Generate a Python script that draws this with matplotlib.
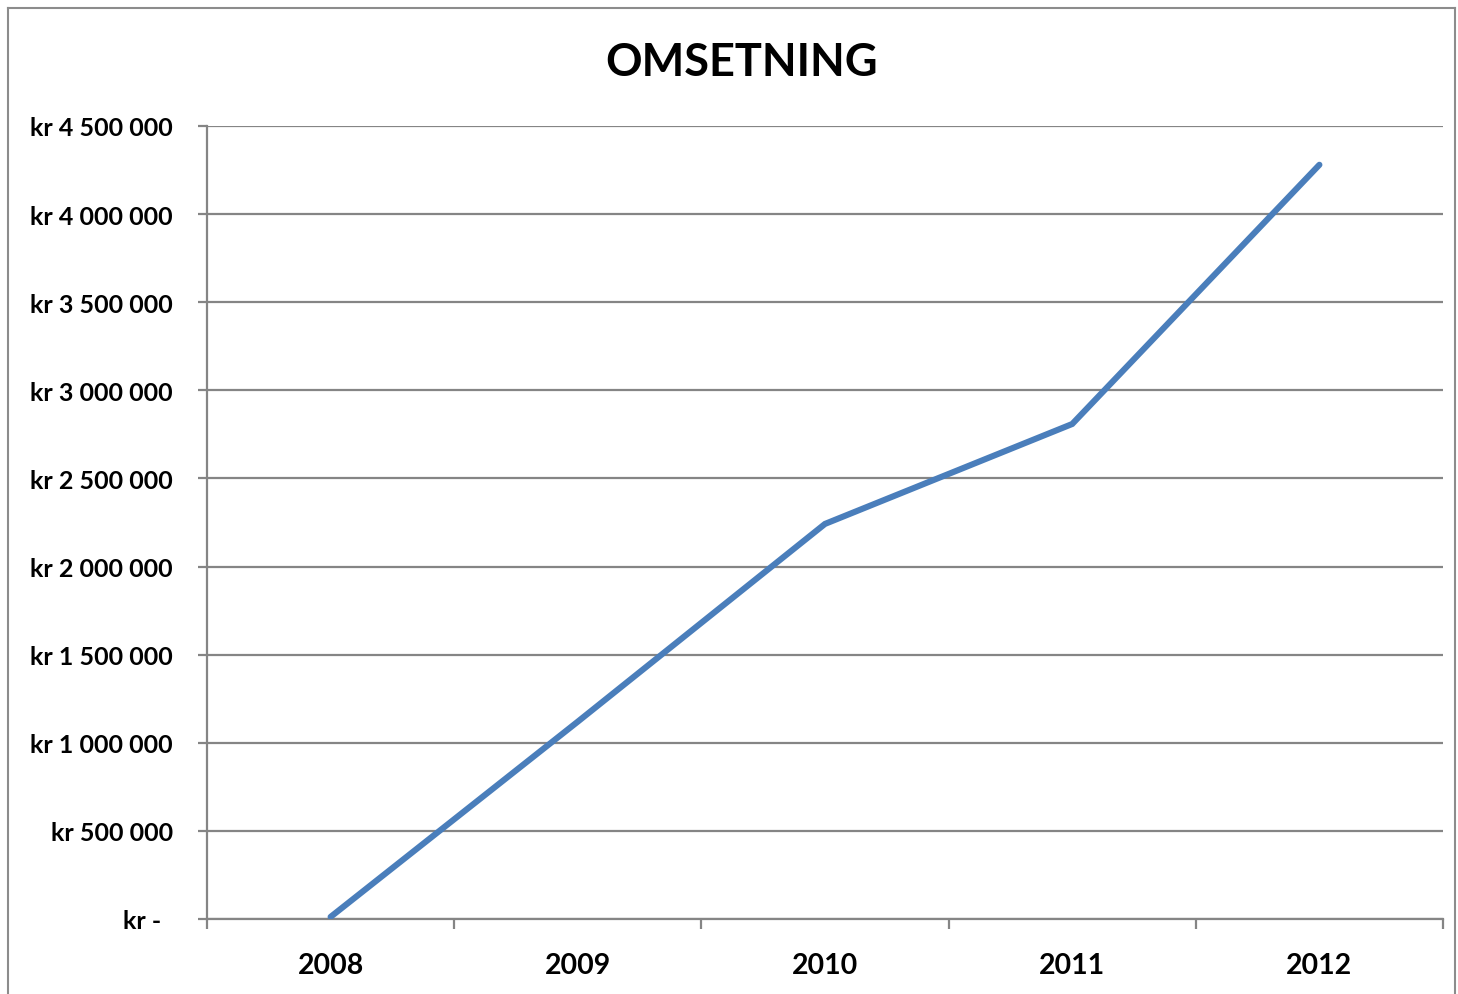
import matplotlib
matplotlib.use("Agg")
import matplotlib.pyplot as plt
from matplotlib.lines import Line2D
from matplotlib.ticker import FixedLocator, FuncFormatter

years = ["2008", "2009", "2010", "2011", "2012"]
omsetning = [12000, 1120000, 2242000, 2809000, 4280000]
y_ticks = [0, 500000, 1000000, 1500000, 2000000, 2500000, 3000000, 3500000, 4000000, 4500000]
title = "OMSETNING"

FONT = "Lato"
GRID = "#858585"
LINE = "#4A7EBB"

fig = plt.figure(figsize=(14.58, 9.95), dpi=100)
W, H = 1458, 995
ax = fig.add_axes([207 / W, 1 - 920 / H, (1443 - 207) / W, (920 - 127) / H])

x = list(range(len(years)))
ax.plot(x, omsetning, color=LINE, lw=4.4, solid_capstyle="round", solid_joinstyle="miter", zorder=3)

ax.set_xlim(-0.5, len(years) - 0.5)
ax.set_ylim(0, 4500000)


def fmt(v, pos):
    if v == 0:
        return "kr -  "
    s = f"{int(v):,}".replace(",", " ")
    return "kr " + s


ax.yaxis.set_major_locator(FixedLocator(y_ticks))
ax.yaxis.set_major_formatter(FuncFormatter(fmt))
ax.grid(axis="y", color=GRID, lw=1.6, zorder=1)
ax.tick_params(axis="y", which="major", length=6.5, width=1.6, color=GRID, pad=18)

ax.set_xticks(x)
ax.set_xticklabels(years)
ax.set_xticks([i - 0.5 for i in range(len(years) + 1)], minor=True)
ax.tick_params(axis="x", which="major", length=0, pad=24)
ax.tick_params(axis="x", which="minor", length=7, width=1.6, color=GRID)

for lab in ax.get_yticklabels():
    lab.set_fontfamily(FONT)
    lab.set_fontweight("bold")
    lab.set_fontsize(18)
for lab in ax.get_xticklabels():
    lab.set_fontfamily(FONT)
    lab.set_fontweight("bold")
    lab.set_fontsize(20.5)

for s in ["top", "right"]:
    ax.spines[s].set_visible(False)
for s in ["left", "bottom"]:
    ax.spines[s].set_color(GRID)
    ax.spines[s].set_linewidth(1.6)

fig.text(742 / W, 1 - 63 / H, title, ha="center", va="center",
         fontfamily=FONT, fontweight="bold", fontsize=32.5)

# outer chart frame
bx0, by0, bx1 = 7.5 / W, 1 - 8.5 / H, 1455 / W
fig.add_artist(Line2D([bx0, bx1], [by0, by0], transform=fig.transFigure, color="#8c8c8c", lw=1.5))
fig.add_artist(Line2D([bx0, bx0], [by0, -0.01], transform=fig.transFigure, color="#8c8c8c", lw=1.5))
fig.add_artist(Line2D([bx1, bx1], [by0, -0.01], transform=fig.transFigure, color="#8c8c8c", lw=1.5))

fig.savefig("out.png", dpi=100)
